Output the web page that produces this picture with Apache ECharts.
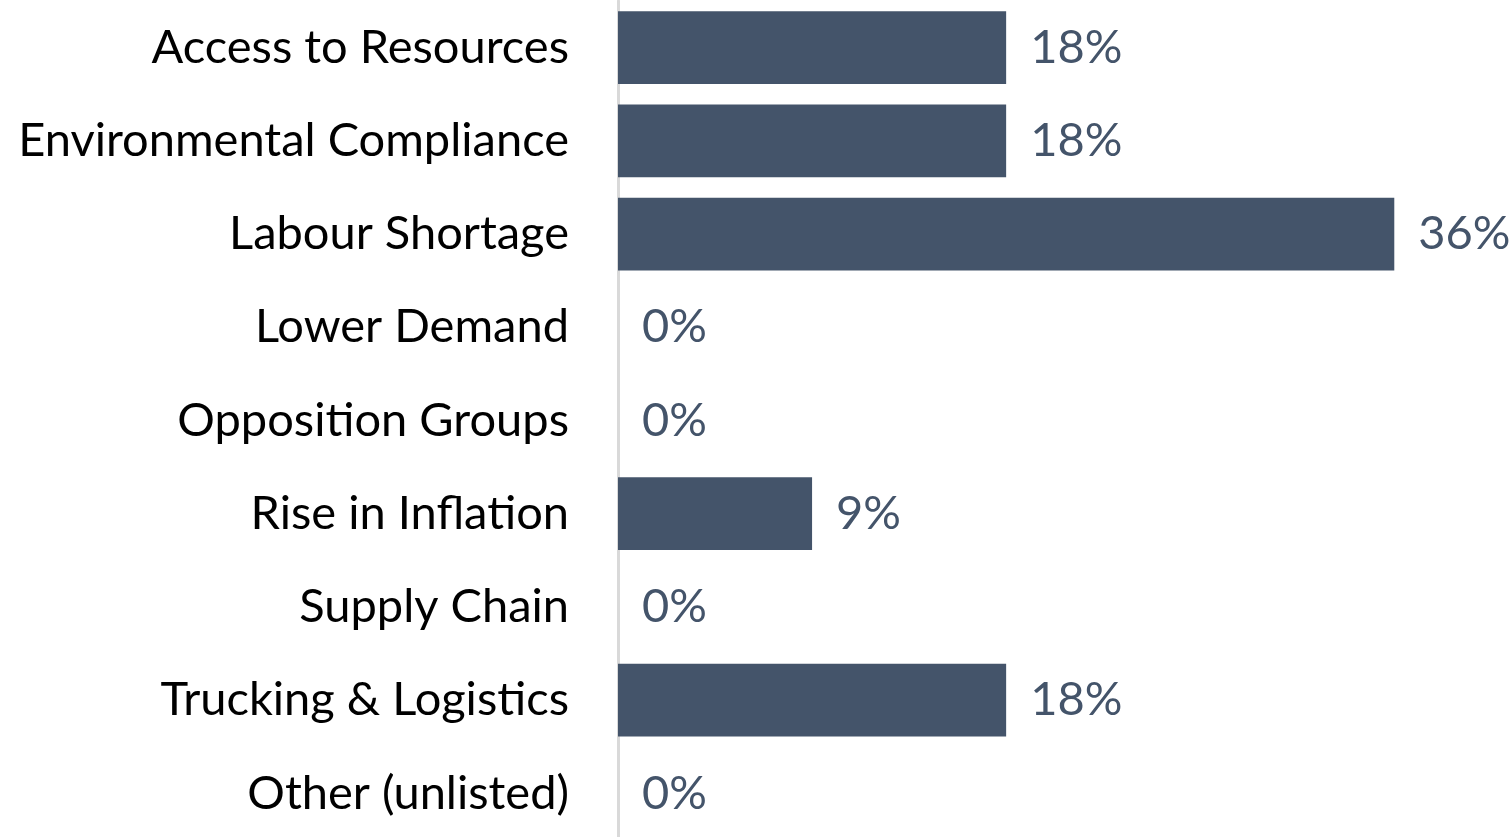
<!DOCTYPE html>
<html>
<head>
<meta charset="utf-8">
<script src="https://cdn.jsdelivr.net/npm/echarts@6/dist/echarts.min.js"></script>
<style>
html,body{margin:0;padding:0;background:#fff;}
#chart{width:1512px;height:837px;}
</style>
</head>
<body>
<div id="chart"></div>
<script>
var categories = ["Access to Resources","Environmental Compliance","Labour Shortage","Lower Demand","Opposition Groups","Rise in Inflation","Supply Chain","Trucking & Logistics","Other (unlisted)"];
var values = [18.18, 18.18, 36.36, 0, 0, 9.09, 0, 18.18, 0];

var chart = echarts.init(document.getElementById('chart'));
chart.setOption({
  animation: false,
  grid: { left: 618, top: 1, width: 854, height: 839, containLabel: false, outerBoundsMode: 'none' },
  xAxis: { type: 'value', min: 0, max: 40, show: false },
  yAxis: {
    type: 'category', data: categories, inverse: true,
    axisLine: { show: true, lineStyle: { color: '#D9D9D9', width: 3 } },
    axisTick: { show: false },
    axisLabel: { margin: 49, fontFamily: 'Lato', fontSize: 47, color: '#000000' }
  },
  series: [{
    type: 'bar', data: values, barCategoryGap: '22%',
    itemStyle: { color: '#44546A' },
    label: {
      show: true, position: 'right', distance: 24,
      fontFamily: 'Lato', fontSize: 47, color: '#44546A',
      formatter: function (p) { return Math.round(p.value) + '%'; }
    }
  }]
});
</script>
</body>
</html>
